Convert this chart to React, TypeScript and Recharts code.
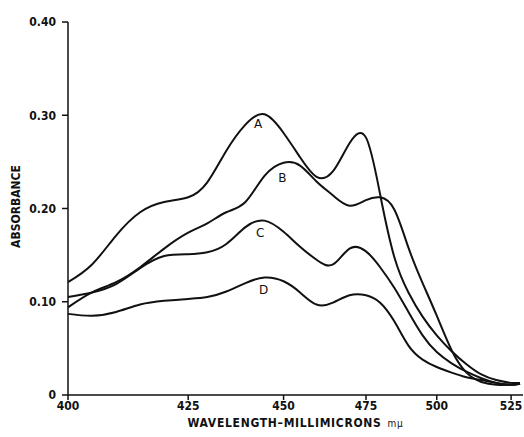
import React from "react";
import { LineChart, Line, XAxis, YAxis, ReferenceDot, Label } from "recharts";

// wavelength in millimicrons (mμ)
const WAVELENGTHS = [
  400, 405, 410, 415, 420, 425, 430, 435, 440, 445, 450, 455, 460, 465, 470,
  475, 480, 485, 490, 495, 500, 505, 510, 515, 520, 525, 528,
];

// absorbance of each sample
const CURVE_A = [
  0.121, 0.140, 0.171, 0.196, 0.207, 0.212, 0.228, 0.262, 0.290, 0.301, 0.281,
  0.255, 0.234, 0.240, 0.270, 0.276, 0.215, 0.148, 0.110, 0.084, 0.064, 0.047,
  0.033, 0.022, 0.016, 0.013, 0.013,
];
const CURVE_B = [
  0.094, 0.110, 0.121, 0.137, 0.157, 0.174, 0.184, 0.196, 0.207, 0.235, 0.249,
  0.246, 0.229, 0.214, 0.203, 0.209, 0.212, 0.199, 0.158, 0.120, 0.085, 0.048,
  0.024, 0.014, 0.011, 0.011, 0.012,
];
const CURVE_C = [
  0.105, 0.110, 0.119, 0.136, 0.149, 0.151, 0.153, 0.162, 0.180, 0.187, 0.175,
  0.159, 0.145, 0.140, 0.157, 0.154, 0.137, 0.115, 0.089, 0.064, 0.046, 0.034,
  0.025, 0.018, 0.013, 0.011, 0.012,
];
const CURVE_D = [
  0.087, 0.085, 0.089, 0.097, 0.101, 0.103, 0.105, 0.111, 0.120, 0.126, 0.122,
  0.110, 0.097, 0.099, 0.107, 0.107, 0.099, 0.079, 0.053, 0.038, 0.030, 0.024,
  0.019, 0.016, 0.013, 0.011, 0.012,
];

const X_TICKS = [400, 425, 450, 475, 500, 525];
const Y_TICKS = [0, 0.1, 0.2, 0.3, 0.4];

// the recorder paper is not linear in wavelength (prism instrument):
// relative spacing of the printed marks 400..525
const PAPER_SPACING = [0, 120.6, 216.3, 299, 370, 444.6];

const CURVE_LABELS = [
  { name: "A", nm: 443.3, abs: 0.291 },
  { name: "B", nm: 449.7, abs: 0.233 },
  { name: "C", nm: 443.9, abs: 0.174 },
  { name: "D", nm: 444.8, abs: 0.1125 },
];

const INK = "#111";
const FONT = "'DejaVu Sans Condensed', 'Liberation Sans Narrow', 'DejaVu Sans', sans-serif";

const data = WAVELENGTHS.map((nm, i) => ({
  nm,
  A: CURVE_A[i],
  B: CURVE_B[i],
  C: CURVE_C[i],
  D: CURVE_D[i],
}));

function paperPos(nm: number) {
  let i = 0;
  while (i < X_TICKS.length - 2 && nm > X_TICKS[i + 1]) i++;
  const t = (nm - X_TICKS[i]) / (X_TICKS[i + 1] - X_TICKS[i]);
  return PAPER_SPACING[i] + t * (PAPER_SPACING[i + 1] - PAPER_SPACING[i]);
}

// minimal d3-style scale so recharts can place points on the chart paper
function makePaperScale(dom: number[] = [400, 529], rng: number[] = [0, 1]): any {
  let d = dom.slice();
  let r = rng.slice();
  const scale: any = (v: number) => {
    const p0 = paperPos(d[0]);
    const p1 = paperPos(d[d.length - 1]);
    return r[0] + ((paperPos(v) - p0) / (p1 - p0)) * (r[r.length - 1] - r[0]);
  };
  scale.domain = (...args: any[]) => {
    if (!args.length) return d.slice();
    d = Array.from(args[0]).map(Number);
    return scale;
  };
  scale.range = (...args: any[]) => {
    if (!args.length) return r.slice();
    r = Array.from(args[0]).map(Number);
    return scale;
  };
  scale.copy = () => makePaperScale(d, r);
  scale.ticks = () => X_TICKS.slice();
  scale.invert = (px: number) => {
    const p0 = paperPos(d[0]);
    const p1 = paperPos(d[d.length - 1]);
    const p = p0 + ((px - r[0]) / (r[r.length - 1] - r[0])) * (p1 - p0);
    let i = 0;
    while (i < PAPER_SPACING.length - 2 && p > PAPER_SPACING[i + 1]) i++;
    const t = (p - PAPER_SPACING[i]) / (PAPER_SPACING[i + 1] - PAPER_SPACING[i]);
    return X_TICKS[i] + t * (X_TICKS[i + 1] - X_TICKS[i]);
  };
  return scale;
}

const paperScale = makePaperScale();

function XTitle(props: any) {
  const vb = props.viewBox || { x: 68, y: 395, width: 455, height: 30 };
  const cx = vb.x + vb.width / 2;
  return (
    <text
      x={cx}
      y={vb.y + vb.height + 2}
      textAnchor="middle"
      fill={INK}
      fontFamily={FONT}
      fontStretch="condensed"
      fontWeight={700}
      fontSize={12}
      letterSpacing={0.7}
    >
      <tspan>WAVELENGTH–MILLIMICRONS</tspan>
      <tspan dx={6} fontSize={10} fontWeight={400}>
        mμ
      </tspan>
    </text>
  );
}

function YTitle(props: any) {
  const vb = props.viewBox || { x: 8, y: 22, width: 60, height: 373 };
  const x = vb.x + 8;
  const y = vb.y + vb.height / 2 - 2;
  return (
    <text
      x={x}
      y={y}
      transform={`rotate(-90 ${x} ${y})`}
      textAnchor="middle"
      dominantBaseline="central"
      fill={INK}
      fontFamily={FONT}
      fontStretch="condensed"
      fontWeight={700}
      fontSize={12}
    >
      ABSORBANCE
    </text>
  );
}

const tickStyle = {
  fill: INK,
  fontSize: 12,
  fontWeight: 700,
  fontFamily: FONT,
  fontStretch: "condensed",
};

export default function App() {
  return (
    <div
      style={{
        position: "absolute",
        left: 0,
        top: 0,
        width: 524,
        height: 437,
        background: "#fff",
      }}
    >
      <LineChart
        width={524}
        height={437}
        data={data}
        margin={{ top: 22, right: 1, bottom: 12, left: 8 }}
      >
        <XAxis
          dataKey="nm"
          type="number"
          scale={paperScale}
          domain={[400, 529]}
          ticks={X_TICKS}
          interval={0}
          height={30}
          tickSize={5}
          tickMargin={1}
          stroke={INK}
          strokeWidth={1.5}
          tick={tickStyle}
        >
          <Label content={<XTitle />} />
        </XAxis>
        <YAxis
          type="number"
          domain={[0, 0.4]}
          ticks={Y_TICKS}
          width={60}
          tickSize={6}
          tickMargin={6}
          stroke={INK}
          strokeWidth={1.5}
          tick={tickStyle}
          tickFormatter={(v: number) => (v === 0 ? "0" : v.toFixed(2))}
        >
          <Label content={<YTitle />} />
        </YAxis>

        {["A", "B", "C", "D"].map((key) => (
          <Line
            key={key}
            type="natural"
            dataKey={key}
            stroke={INK}
            strokeWidth={2}
            dot={false}
            activeDot={false}
            isAnimationActive={false}
          />
        ))}

        {CURVE_LABELS.map((l) => (
          <ReferenceDot
            key={l.name}
            x={l.nm}
            y={l.abs}
            r={1}
            fill="none"
            stroke="none"
            label={{
              value: l.name,
              position: "center",
              fill: INK,
              fontSize: 12,
              fontFamily: "'DejaVu Sans', sans-serif",
            }}
          />
        ))}
      </LineChart>
    </div>
  );
}
